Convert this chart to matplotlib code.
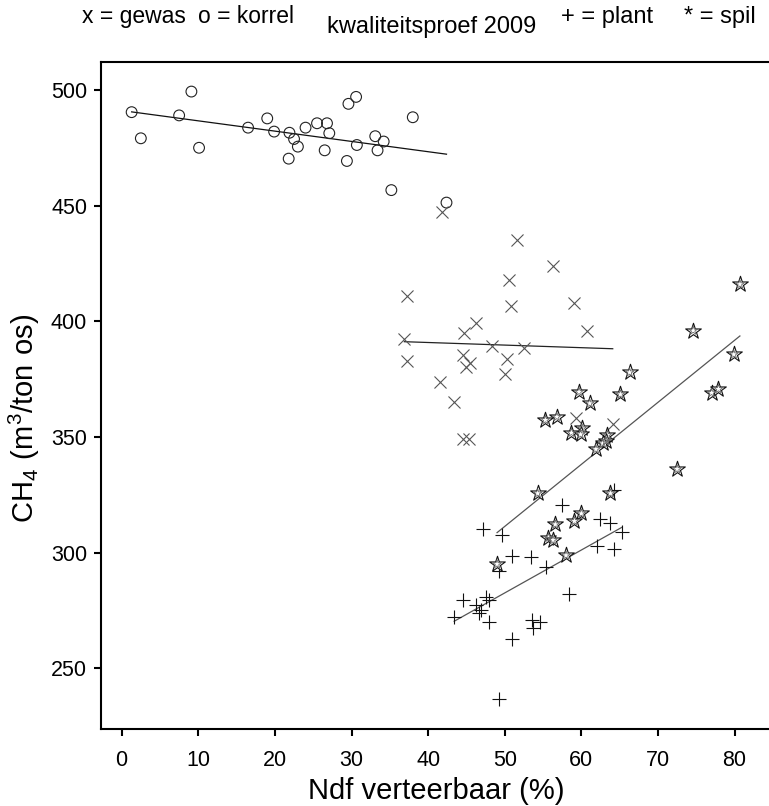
import matplotlib
matplotlib.use("Agg")
import matplotlib.pyplot as plt
import numpy as np

plt.rcParams['font.family'] = ['Liberation Sans', 'DejaVu Sans']
plt.rcParams['mathtext.fontset'] = 'custom'
plt.rcParams['mathtext.rm'] = 'Liberation Sans'

# korrel (o)
korrel_x = [1.3, 2.5, 9.1, 7.5, 10.1, 16.5, 19.0, 19.9, 21.9, 22.5, 23.0, 21.8, 24.0, 25.5,
            26.8, 27.1, 26.5, 29.6, 30.6, 29.4, 30.7, 33.1, 34.2, 33.4, 38.0, 35.2, 42.4]
korrel_y = [490.4, 479.1, 499.3, 489.0, 475.0, 483.7, 487.7, 482.0, 481.5, 478.8, 475.5, 470.3, 483.7, 485.6,
            485.6, 481.3, 473.9, 494.0, 497.0, 469.3, 476.2, 480.0, 477.7, 473.9, 488.2, 456.7, 451.3]

# gewas (x)
gewas_x = [41.8, 51.6, 56.3, 50.5, 37.3, 50.8, 59.0, 46.3, 44.7, 60.8, 36.9, 48.3, 52.5,
           44.6, 50.3, 45.5, 45.0, 37.3, 50.1, 41.5, 43.4, 44.6, 45.3, 59.3, 64.1]
gewas_y = [447.1, 435.1, 423.7, 417.7, 410.9, 406.6, 408.0, 399.1, 394.8, 395.9, 392.3, 389.4, 388.6,
           385.3, 383.8, 382.1, 380.4, 382.8, 377.1, 373.9, 364.9, 348.9, 348.9, 358.0, 355.4]

# spil (*)
spil_x = [80.7, 74.6, 79.9, 66.3, 77.0, 77.9, 59.7, 65.1, 61.1, 55.3, 56.8, 58.7, 60.1, 59.9,
          63.4, 63.2, 62.8, 61.9, 72.5, 54.3, 63.8, 56.6, 60.0, 59.1, 55.7, 56.3, 58.0, 49.0]
spil_y = [416.0, 396.0, 385.7, 377.9, 369.1, 370.7, 369.5, 368.4, 364.5, 357.3, 358.7, 351.8, 353.7, 351.1,
          350.8, 348.2, 347.2, 344.7, 336.1, 325.6, 325.6, 312.2, 316.9, 313.6, 306.4, 305.4, 298.8, 295.0]

# plant (+)
plant_x = [57.5, 47.1, 49.7, 64.3, 62.5, 63.8, 65.3, 62.0, 64.3, 51.0, 53.4, 55.4, 49.2, 58.4,
           44.6, 47.6, 47.9, 46.3, 46.9, 43.4, 46.7, 48.0, 53.6, 54.6, 53.7, 50.9, 49.2]
plant_y = [320.7, 310.1, 307.5, 327.0, 314.3, 312.9, 309.0, 302.8, 301.5, 298.4, 297.9, 293.6, 292.1, 282.3,
           279.4, 280.6, 279.4, 277.3, 275.1, 272.0, 273.7, 269.9, 270.8, 270.1, 267.2, 262.5, 236.5]

korrel_fit = (-0.445, 491.1)
gewas_fit = (-0.112, 395.3)
spil_fit = (2.682, 177.2)
plant_fit = (1.855, 189.8)

xticks = [0, 10, 20, 30, 40, 50, 60, 70, 80]
yticks = [250, 300, 350, 400, 450, 500]

W, H = 769, 806
fig = plt.figure(figsize=(W / 100, H / 100), dpi=100)
ax = fig.add_axes([101 / W, (H - 729.3) / H, (780.5 - 101) / W, (729.3 - 61.5) / H])

def fitline(xs, fit, **kw):
    xx = np.array([min(xs), max(xs)])
    ax.plot(xx, fit[0] * xx + fit[1], **kw)

# korrel
ax.scatter(korrel_x, korrel_y, s=60, marker='o', facecolors='none', edgecolors='#222222', linewidths=0.8, zorder=3)
fitline(korrel_x, korrel_fit, color='#111111', lw=0.9, zorder=2)

# gewas
ax.scatter(gewas_x, gewas_y, s=75, marker='x', color='#555555', linewidths=0.8, zorder=3)
fitline(gewas_x, gewas_fit, color='#222222', lw=0.9, zorder=2)

# plant
ax.scatter(plant_x, plant_y, s=95, marker='+', color='#111111', linewidths=0.8, zorder=3)
fitline(plant_x, plant_fit, color='#555555', lw=0.9, zorder=2)

# spil
ax.scatter(spil_x, spil_y, s=140, marker='*', facecolors='white', edgecolors='#111111', linewidths=0.8, zorder=4)
ax.scatter(spil_x, spil_y, s=45, marker='*', facecolors='none', edgecolors='#666666', linewidths=0.6, zorder=5)
fitline(spil_x, spil_fit, color='#555555', lw=0.9, zorder=2)

ax.set_xlim(-2.7, 86)
ax.set_ylim(223.6, 512.3)
ax.set_xticks(xticks)
ax.set_yticks(yticks)
for s in ['left', 'bottom', 'top', 'right']:
    ax.spines[s].set_linewidth(1.5)
ax.tick_params(axis='both', direction='out', length=5, width=1.5, labelsize=15.5)
ax.tick_params(axis='x', pad=10)
ax.tick_params(axis='y', pad=5)

# titel en legenda-teksten
fig.text(82 / W, 1 - 23 / H, 'x = gewas', fontsize=16.5, va='baseline', ha='left')
fig.text(198 / W, 1 - 23 / H, 'o = korrel', fontsize=16.5, va='baseline', ha='left')
fig.text(327 / W, 1 - 33 / H, 'kwaliteitsproef 2009', fontsize=17, va='baseline', ha='left')
fig.text(561 / W, 1 - 23 / H, '+ = plant', fontsize=17, va='baseline', ha='left')
fig.text(684 / W, 1 - 23 / H, '* = spil', fontsize=17, va='baseline', ha='left')

# aslabels
fig.text(436 / W, 1 - 799 / H, 'Ndf verteerbaar (%)', fontsize=21, va='baseline', ha='center')
fig.text(24 / W, 1 - 523 / H, r'$\mathregular{CH_4\ (m^3/ton\ os)}$', fontsize=21,
         rotation=90, ha='center', va='bottom')

fig.savefig('out.png', dpi=100)
